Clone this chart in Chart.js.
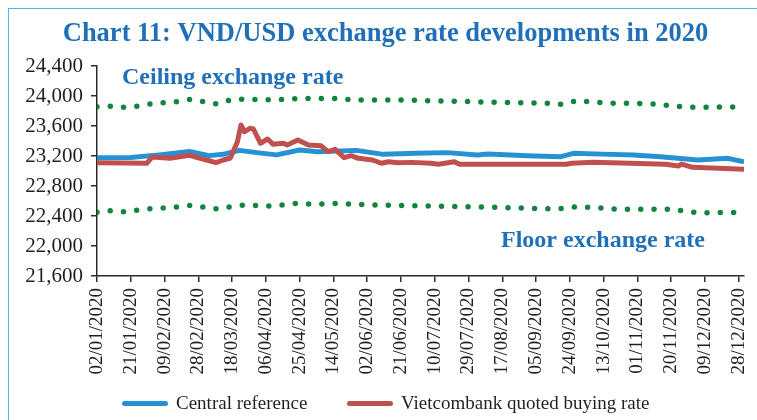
<!DOCTYPE html>
<html>
<head>
<meta charset="utf-8">
<script src="https://cdn.jsdelivr.net/npm/chart.js@4/dist/chart.umd.min.js"></script>
<style>
    html, body { margin: 0; padding: 0; background: #FFFFFF; }
    #wrap { position: relative; width: 757px; height: 420px; overflow: hidden; }
    #rateChart { position: absolute; left: 0; top: 0; }
    #frame {
        position: absolute; left: 8px; top: 8px; width: 800px; height: 500px;
        border-top: 1.5px solid #52B2E4; border-left: 1.5px solid #52B2E4;
        pointer-events: none;
    }
    .legend-item {
        position: absolute; top: 392px; height: 22px;
        font: 19px "Liberation Serif", serif; color: #231F20;
        display: flex; align-items: center; white-space: nowrap;
    }
    .legend-line { width: 46px; height: 5px; border-radius: 3px; margin-right: 8px; }
</style>
</head>
<body>
<div id="wrap">
    <canvas id="rateChart" width="757" height="420"></canvas>
    <div id="frame"></div>
    <div class="legend-item" style="left:122px"><span class="legend-line" style="background:#2692D4"></span>Central reference</div>
    <div class="legend-item" style="left:347px"><span class="legend-line" style="background:#C0504D"></span>Vietcombank quoted buying rate</div>
</div>
<script>
"use strict";

// ------------------------------------
// Data (dd/mm, 2020)
// ------------------------------------

const tickLabels = [
    "02/01/2020", "21/01/2020", "09/02/2020", "28/02/2020", "18/03/2020",
    "06/04/2020", "25/04/2020", "14/05/2020", "02/06/2020", "21/06/2020",
    "10/07/2020", "29/07/2020", "17/08/2020", "05/09/2020", "24/09/2020",
    "13/10/2020", "01/11/2020", "20/11/2020", "09/12/2020", "28/12/2020"
];

const centralDates = [
    "02/01", "21/01", "06/02", "23/02", "05/03", "13/03", "22/03", "01/04",
    "12/04", "25/04", "05/05", "27/05", "11/06", "30/06", "17/07", "03/08",
    "09/08", "31/08", "19/09", "26/09", "12/10", "30/10", "14/11", "05/12",
    "22/12", "31/12"
];
const centralValues = [
    23175, 23180, 23215, 23260, 23205, 23222, 23275, 23245,
    23215, 23280, 23258, 23275, 23222, 23236, 23245, 23213,
    23227, 23204, 23191, 23236, 23225, 23213, 23191, 23147,
    23169, 23124
];

const vcbDates = [
    "02/01", "30/01", "02/02", "12/02", "23/02", "29/02", "09/03", "13/03",
    "17/03", "21/03", "23/03", "25/03", "28/03", "30/03", "03/04", "07/04",
    "10/04", "16/04", "18/04", "24/04", "30/04", "07/05", "11/05", "15/05",
    "20/05", "24/05", "28/05", "05/06", "10/06", "14/06", "19/06", "27/06",
    "08/07", "12/07", "21/07", "24/07", "20/08", "22/09", "25/09", "07/10",
    "17/11", "24/11", "26/11", "02/12", "31/12"
];
const vcbValues = [
    23110, 23103, 23185, 23170, 23210, 23170, 23111, 23147,
    23173, 23390, 23613, 23524, 23569, 23560, 23369, 23427,
    23356, 23369, 23347, 23413, 23347, 23338, 23258, 23289,
    23178, 23204, 23169, 23147, 23103, 23124, 23111, 23115,
    23103, 23089, 23124, 23089, 23090, 23089, 23103, 23116,
    23089, 23067, 23093, 23049, 23022
];

const ceilingDates = [
    "02/01", "10/01", "17/01", "25/01", "01/02", "08/02", "16/02", "24/02",
    "02/03", "10/03", "17/03", "25/03", "09/04", "24/04", "17/05", "24/05",
    "21/06", "15/08", "13/09", "20/09", "28/09", "06/10", "20/10", "04/11",
    "12/11", "20/11", "04/12", "27/12", "31/12"
];
const ceilingValues = [
    23857, 23865, 23850, 23865, 23893, 23911, 23924, 23956,
    23924, 23893, 23947, 23960, 23947, 23967, 23967, 23947,
    23947, 23915, 23903, 23889, 23940, 23918, 23903, 23900,
    23893, 23867, 23849, 23855, 23855
];

const floorDates = [
    "02/01", "10/01", "17/01", "25/01", "01/02", "08/02", "16/02", "24/02",
    "02/03", "10/03", "17/03", "25/03", "09/04", "24/04", "02/05", "17/05",
    "24/05", "08/06", "15/08", "16/09", "28/09", "14/10", "21/10", "13/11",
    "20/11", "28/11", "05/12", "31/12"
];
const floorValues = [
    22449, 22471, 22457, 22480, 22497, 22507, 22520, 22543,
    22520, 22493, 22524, 22547, 22533, 22569, 22556, 22569,
    22556, 22547, 22515, 22493, 22524, 22502, 22489, 22489,
    22489, 22467, 22444, 22449
];

const titleBlue = "#1F70B8";
const textColor = "#231F20";
const axisColor = "#2B2B2B";

/**
 * Turns "dd/mm" (or "dd/mm/yyyy") into the day of year 2020.
 */
function dayOfYear(label) {

    const parts = label.split("/").map(Number);

    return (Date.UTC(2020, parts[1] - 1, parts[0]) - Date.UTC(2020, 0, 1)) / 86400000 + 1;

}

function toPoints(dates, values) {

    return dates.map((d, i) => ({ x: dayOfYear(d), y: values[i] }));

}

const tickDays = tickLabels.map(dayOfYear);

// ------------------------------------
// Text notes for the band lines.
// ------------------------------------

const bandNotes = {

    id: "bandNotes",

    afterDatasetsDraw(chart) {

        const ctx = chart.ctx;

        ctx.save();
        ctx.font = "bold 24px 'Liberation Serif'";
        ctx.fillStyle = titleBlue;
        ctx.textBaseline = "alphabetic";
        ctx.fillText("Ceiling exchange rate", 122, 84);
        ctx.fillText("Floor exchange rate", 501, 247);
        ctx.restore();

    }

};

new Chart(document.querySelector("#rateChart"), {

    type: "line",

    data: {

        datasets: [

            {
                label: "Vietcombank quoted buying rate",
                data: toPoints(vcbDates, vcbValues),
                borderColor: "#C0504D",
                borderWidth: 5,
                order: 0
            },

            {
                label: "Central reference",
                data: toPoints(centralDates, centralValues),
                borderColor: "#2692D4",
                borderWidth: 5,
                order: 1
            },

            {
                label: "Ceiling",
                data: toPoints(ceilingDates, ceilingValues),
                borderColor: "#13843F",
                borderWidth: 5.5,
                borderDash: [0, 13.3],
                borderCapStyle: "round",
                order: 2
            },

            {
                label: "Floor",
                data: toPoints(floorDates, floorValues),
                borderColor: "#13843F",
                borderWidth: 5.5,
                borderDash: [0, 13.3],
                borderCapStyle: "round",
                order: 2
            }

        ]

    },

    options: {

        responsive: false,
        animation: false,
        devicePixelRatio: 1,

        layout: {
            padding: { left: 14, right: 0, top: 8, bottom: 0 }
        },

        elements: {
            point: { radius: 0 },
            line: { tension: 0, borderJoinStyle: "round", fill: false }
        },

        plugins: {

            legend: { display: false },

            tooltip: { enabled: false },

            title: {
                display: true,
                text: "Chart 11: VND/USD exchange rate developments in 2020",
                color: titleBlue,
                font: { family: "'Liberation Serif'", size: 26.5, weight: "bold" },
                padding: { top: 10, bottom: 16.2 }
            }

        },

        scales: {

            x: {
                type: "linear",
                min: 2,
                max: 366,
                grid: { drawOnChartArea: false, drawTicks: true, tickLength: 6, color: axisColor, lineWidth: 1.5 },
                border: { display: true, color: axisColor, width: 1.5 },
                ticks: {
                    autoSkip: false,
                    maxRotation: 90,
                    minRotation: 90,
                    padding: 6,
                    color: textColor,
                    font: { family: "'Liberation Serif'", size: 19 },
                    callback: (value, index) => tickLabels[index]
                },
                afterBuildTicks: scale => {
                    scale.ticks = tickDays.map(v => ({ value: v }));
                },
                afterFit: scale => {
                    scale.height = 144;
                    scale.paddingRight = 13;
                }
            },

            y: {
                min: 21600,
                max: 24400,
                grid: { drawOnChartArea: false, drawTicks: true, tickLength: 6, color: axisColor, lineWidth: 1.5 },
                border: { display: true, color: axisColor, width: 1.5 },
                ticks: {
                    stepSize: 400,
                    padding: 8,
                    color: textColor,
                    font: { family: "'Liberation Serif'", size: 21 },
                    callback: value => value.toLocaleString("en-US")
                },
                afterFit: scale => {
                    scale.width = 83;
                }
            }

        }

    },

    plugins: [bandNotes]

});
</script>
</body>
</html>
